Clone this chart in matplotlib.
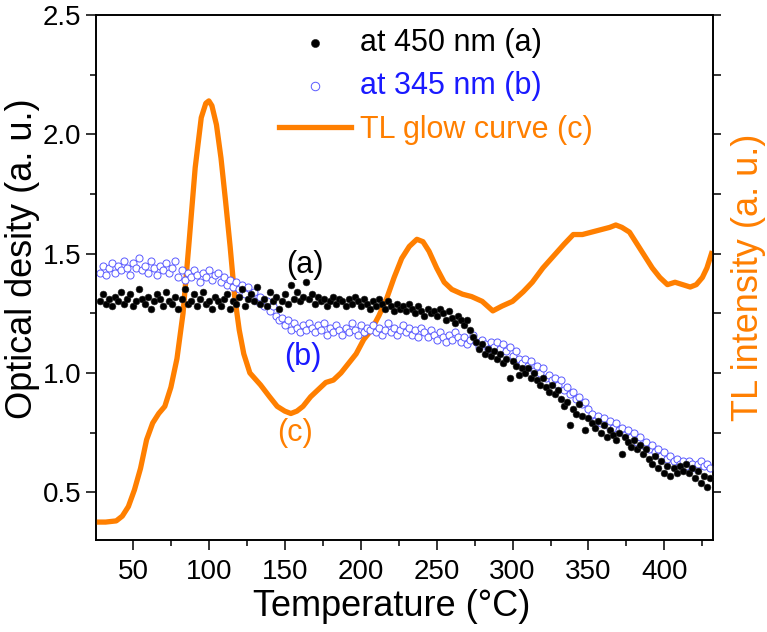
import numpy as np
import matplotlib.pyplot as plt
from matplotlib.ticker import MultipleLocator, NullFormatter

plt.rcParams["font.family"] = ["Liberation Sans", "DejaVu Sans"]

# temperature grid of the optical density scans (every 2 degC)
temp_od = np.arange(28, 431, 2)

# optical density at 450 nm (a)
od_450 = [
    1.30, 1.33, 1.29, 1.31, 1.28, 1.32, 1.30, 1.34, 1.29, 1.31,
    1.33, 1.28, 1.30, 1.35, 1.31, 1.29, 1.32, 1.27, 1.30, 1.33,
    1.31, 1.28, 1.34, 1.30, 1.29, 1.32, 1.27, 1.31, 1.35, 1.29,
    1.30, 1.33, 1.28, 1.31, 1.34, 1.29, 1.30, 1.27, 1.32, 1.30,
    1.28, 1.31, 1.33, 1.27, 1.30, 1.29, 1.32, 1.35, 1.28, 1.31,
    1.33, 1.30, 1.36, 1.29, 1.31, 1.28, 1.34, 1.30, 1.32, 1.27,
    1.30, 1.33, 1.29, 1.37, 1.31, 1.34, 1.30, 1.32, 1.38, 1.31,
    1.33, 1.29, 1.32, 1.30, 1.31, 1.28, 1.30, 1.32, 1.29, 1.31,
    1.30, 1.28, 1.31, 1.29, 1.32, 1.30, 1.28, 1.31, 1.29, 1.27,
    1.30, 1.28, 1.31, 1.29, 1.27, 1.30, 1.28, 1.26, 1.29, 1.27,
    1.28, 1.26, 1.29, 1.27, 1.25, 1.28, 1.26, 1.24, 1.27, 1.25,
    1.26, 1.24, 1.27, 1.25, 1.22, 1.26, 1.23, 1.21, 1.24, 1.22,
    1.20, 1.22, 1.18, 1.15, 1.13, 1.10, 1.12, 1.08, 1.10, 1.07,
    1.09, 1.06, 1.08, 1.04, 1.06, 0.98, 1.05, 1.03, 0.99, 1.02,
    1.00, 1.02, 0.98, 1.00, 0.97, 0.95, 0.98, 0.94, 0.92, 0.95,
    0.91, 0.93, 0.89, 0.86, 0.88, 0.78, 0.85, 0.83, 0.87, 0.82,
    0.76, 0.81, 0.79, 0.77, 0.80, 0.75, 0.78, 0.73, 0.76, 0.74,
    0.72, 0.75, 0.66, 0.73, 0.71, 0.69, 0.72, 0.68, 0.70, 0.66,
    0.68, 0.64, 0.62, 0.65, 0.60, 0.63, 0.58, 0.61, 0.57, 0.60,
    0.58, 0.61, 0.59, 0.62, 0.58, 0.60, 0.56, 0.59, 0.54, 0.57,
    0.52, 0.56,
]

# optical density at 345 nm (b)
od_345 = [
    1.42, 1.45, 1.41, 1.44, 1.46, 1.42, 1.45, 1.43, 1.47, 1.44,
    1.41, 1.46, 1.44, 1.48, 1.43, 1.45, 1.42, 1.47, 1.44, 1.41,
    1.45, 1.43, 1.46, 1.42, 1.44, 1.47, 1.40, 1.43, 1.39, 1.42,
    1.40, 1.43, 1.41, 1.38, 1.42, 1.40, 1.43, 1.39, 1.41, 1.42,
    1.38, 1.40, 1.37, 1.39, 1.36, 1.38, 1.35, 1.37, 1.33, 1.36,
    1.32, 1.34, 1.30, 1.32, 1.28, 1.30, 1.26, 1.28, 1.24, 1.22,
    1.23, 1.20, 1.22, 1.18, 1.21, 1.19, 1.17, 1.20, 1.18, 1.21,
    1.19, 1.17, 1.20, 1.18, 1.21, 1.16, 1.19, 1.17, 1.20, 1.18,
    1.16, 1.19, 1.17, 1.21, 1.18, 1.16, 1.20, 1.17, 1.19, 1.18,
    1.20, 1.17, 1.19, 1.16, 1.18, 1.21, 1.17, 1.19, 1.16, 1.18,
    1.20, 1.17, 1.19, 1.16, 1.18, 1.15, 1.19, 1.17, 1.15, 1.18,
    1.16, 1.14, 1.17, 1.15, 1.13, 1.16, 1.14, 1.17, 1.15, 1.13,
    1.15, 1.12, 1.14, 1.16, 1.13, 1.11, 1.14, 1.12, 1.10, 1.13,
    1.11, 1.13, 1.10, 1.12, 1.09, 1.11, 1.07, 1.09, 1.06, 1.04,
    1.06, 1.03, 1.05, 1.01, 1.03, 1.00, 1.02, 0.98, 0.99, 0.97,
    0.98, 0.95, 0.97, 0.93, 0.94, 0.91, 0.92, 0.89, 0.90, 0.87,
    0.88, 0.85, 0.83, 0.80, 0.82, 0.79, 0.81, 0.78, 0.80, 0.77,
    0.79, 0.76, 0.77, 0.74, 0.76, 0.73, 0.75, 0.71, 0.73, 0.70,
    0.71, 0.68, 0.70, 0.67, 0.68, 0.65, 0.67, 0.64, 0.65, 0.63,
    0.64, 0.62, 0.63, 0.61, 0.63, 0.62, 0.60, 0.62, 0.63, 0.61,
    0.62, 0.60,
]

# TL glow curve (c), plotted in the same visual units as the left axis
temp_tl = [
    25, 32, 39, 43, 47, 51, 55, 59, 63, 67,
    71, 75, 79, 83, 87, 91, 95, 98, 100, 102,
    105, 108, 111, 114, 117, 120, 123, 127, 134, 140,
    145, 150, 154, 158, 162, 167, 172, 177, 182, 187,
    192, 197, 202, 207, 212, 217, 222, 227, 232, 237,
    241, 245, 250, 255, 260, 267, 273, 280, 287, 293,
    300, 307, 313, 320, 327, 334, 340, 346, 352, 358,
    364, 368, 372, 377, 382, 387, 392, 397, 402, 407,
    412, 417, 421, 425, 428, 431,
]
tl_intensity = [
    0.375, 0.375, 0.38, 0.40, 0.44, 0.51, 0.60, 0.72, 0.79, 0.83,
    0.86, 0.94, 1.06, 1.25, 1.55, 1.86, 2.07, 2.13, 2.14, 2.12,
    2.04, 1.90, 1.72, 1.53, 1.32, 1.18, 1.08, 1.00, 0.95, 0.90,
    0.86, 0.84, 0.83, 0.84, 0.86, 0.90, 0.93, 0.96, 0.97, 1.00,
    1.04, 1.08, 1.14, 1.18, 1.24, 1.31, 1.40, 1.48, 1.53, 1.56,
    1.55, 1.51, 1.44, 1.38, 1.35, 1.33, 1.32, 1.30, 1.26, 1.28,
    1.30, 1.34, 1.38, 1.44, 1.49, 1.54, 1.58, 1.58, 1.59, 1.60,
    1.61, 1.62, 1.61, 1.59, 1.54, 1.49, 1.44, 1.40, 1.37, 1.38,
    1.37, 1.36, 1.37, 1.40, 1.44, 1.50,
]

ORANGE = "#ff7f00"
BLUE = "#1a1aff"

fig = plt.figure(figsize=(7.67, 6.32), dpi=100)
ax = fig.add_axes([0.1252, 0.1456, 0.8044, 0.8307])
ax2 = ax.twinx()

ax.scatter(temp_od, od_450, s=24, color="black", edgecolors="#222222",
           linewidths=0.4, zorder=3, label="at 450 nm (a)")
ax.scatter(temp_od, od_345, s=26, facecolors="white", edgecolors="#5a5aff",
           linewidths=0.7, zorder=2, label="at 345 nm (b)")
ax2.plot(temp_tl, tl_intensity, color=ORANGE, linewidth=3.8, zorder=4)
ax.plot([], [], color=ORANGE, linewidth=3.8, label="TL glow curve (c)")

ax.set_xlim(25.7, 432)
ax.set_ylim(0.3, 2.5)
ax2.set_ylim(0.3, 2.5)

ax.xaxis.set_major_locator(MultipleLocator(50))
ax.xaxis.set_minor_locator(MultipleLocator(25))
ax.yaxis.set_major_locator(MultipleLocator(0.5))
ax.yaxis.set_minor_locator(MultipleLocator(0.25))
ax.tick_params(which="major", direction="out", length=7, width=1.1, labelsize=20)
ax.tick_params(which="minor", direction="out", length=4, width=1.1)
ax.tick_params(axis="x", pad=7)
ax.yaxis.set_major_formatter(plt.FormatStrFormatter("%.1f"))

ax2.yaxis.set_major_locator(MultipleLocator(0.25))
ax2.yaxis.set_major_formatter(NullFormatter())
ax2.tick_params(direction="out", length=6, width=1.1)

for a in (ax, ax2):
    for sp in a.spines.values():
        sp.set_linewidth(1.2)

ax.set_xlabel("Temperature (°C)", fontsize=26)
ax.set_ylabel("Optical desity (a. u.)", fontsize=26)
ax2.set_ylabel("TL intensity (a. u.)", fontsize=26, color=ORANGE)
ax.xaxis.set_label_coords(0.48, -0.094)
ax.yaxis.set_label_coords(-0.091, 0.535)
ax2.yaxis.set_label_coords(1.029, 0.50)

ax.text(163, 1.452, "(a)", fontsize=22, color="black", ha="center", va="center")
ax.text(162, 1.067, "(b)", fontsize=22, color=BLUE, ha="center", va="center")
ax.text(156.6, 0.748, "(c)", fontsize=22, color=ORANGE, ha="center", va="center")

ax.legend(loc="upper left", bbox_to_anchor=(0.297, 0.976), frameon=False,
          fontsize=22, handlelength=2.35, handletextpad=0.3,
          borderpad=0, borderaxespad=0, labelspacing=0.45,
          labelcolor=["black", BLUE, ORANGE], scatterpoints=1,
          markerscale=1.2)
ax.set_zorder(ax2.get_zorder() + 1)
ax.patch.set_visible(False)

fig.savefig("out.png", dpi=100)
